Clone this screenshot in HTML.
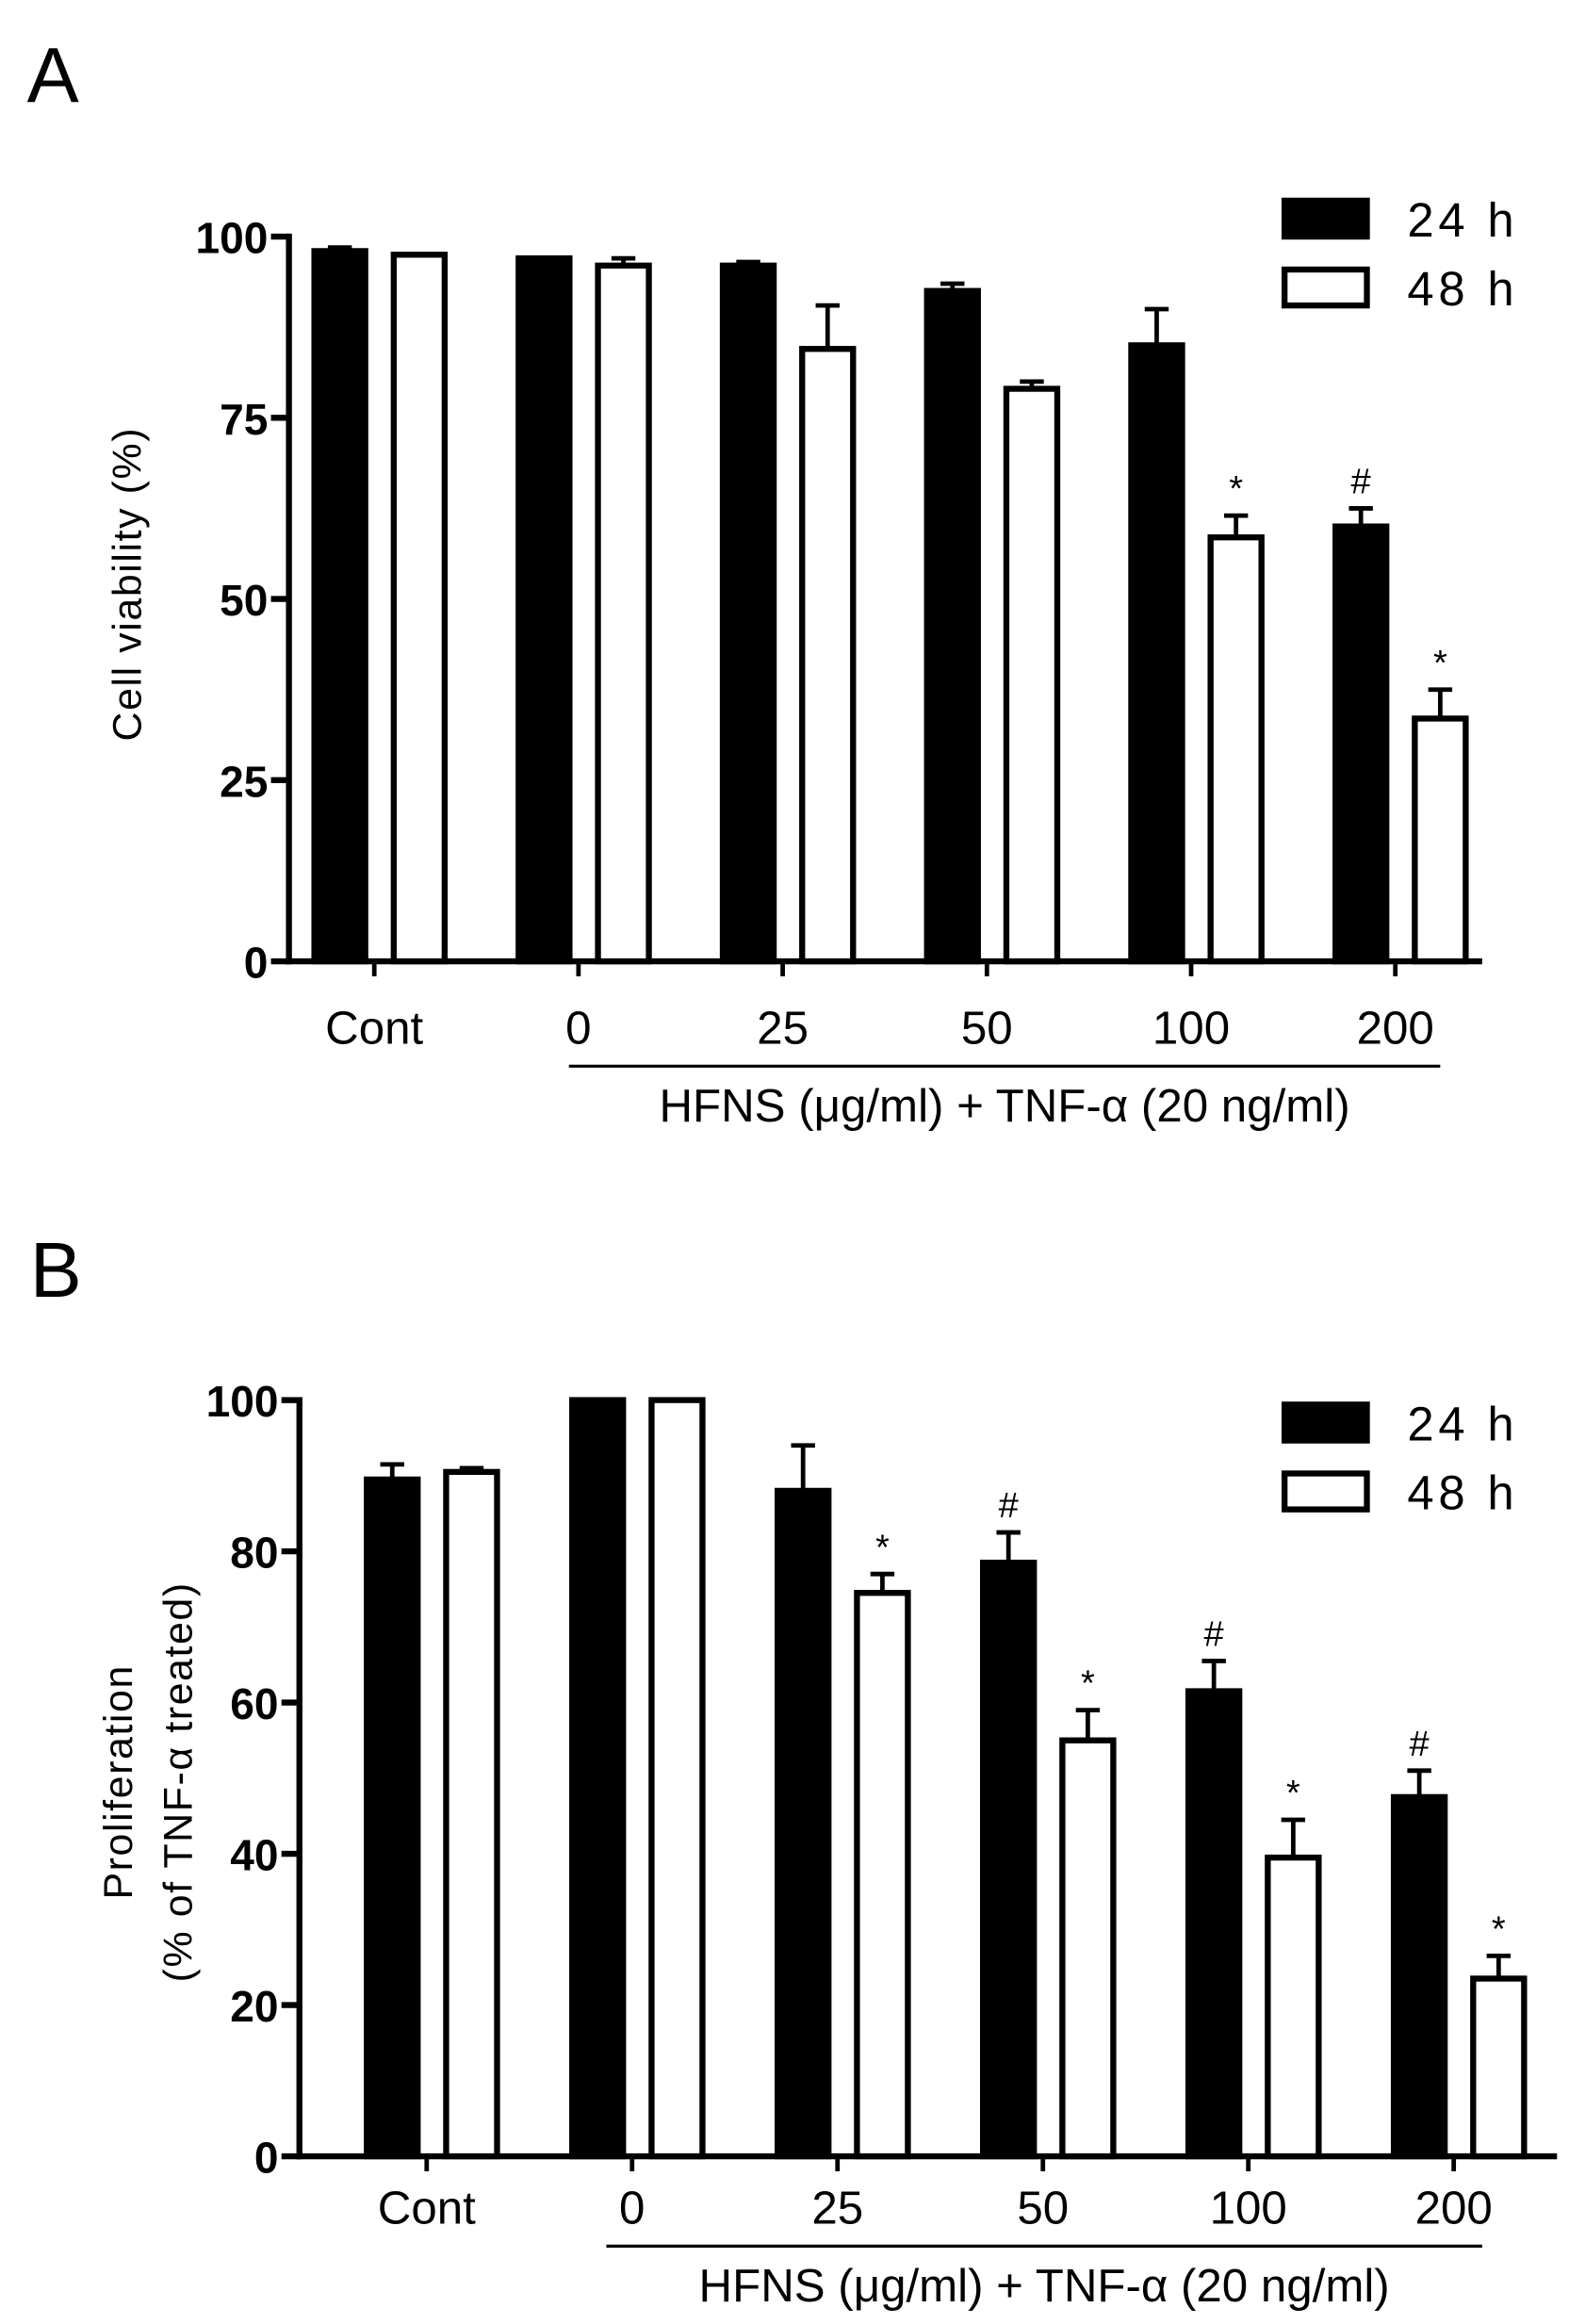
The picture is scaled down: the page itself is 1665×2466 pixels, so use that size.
<!DOCTYPE html>
<html><head><meta charset="utf-8"><style>
html,body{margin:0;padding:0;background:#fff;}
svg{display:block;}
text{font-family:"Liberation Sans",sans-serif;fill:#000;}
.tick{font-weight:bold;font-size:29px;}
.cat{font-family:"Liberation Sans Narrow","Liberation Sans",sans-serif;font-size:31px;}
.ttl{font-size:27px;}
.leg{font-family:"Liberation Sans Narrow","Liberation Sans",sans-serif;font-size:32px;}
</style></head><body>
<svg id="fig" width="1665" height="2466" viewBox="0 0 1048 1552" preserveAspectRatio="none" xmlns="http://www.w3.org/2000/svg">
<text x="18" y="68" style="font-size:52px">A</text>
<text x="20" y="866" style="font-size:52px">B</text>
<g id="pa"></g>
<g id="pb"></g>
</svg>
<script>
const categories=["Cont","0","25","50","100","200"];
const seriesNames=["24 h","48 h"];
const aVals24=[98,97,96,92.5,85,60];
const aErr24=[0.5,0,0.5,1,5,2.5];
const aVals48=[97.5,96,84.5,79,58.5,33.5];
const aErr48=[0,1,6,1,3,4];
const aMarks24=["","","","","","#"];
const aMarks48=["","","","","*","*"];
const aTicks=[0,25,50,75,100];
const bVals24=[89.5,100,88,78.5,61.5,47.5];
const bErr24=[2,0,6,4,4,3.5];
const bVals48=[90.5,100,74.5,55,39.5,23.5];
const bErr48=[0.5,0,2.5,4,5,3];
const bMarks24=["","","","#","#","#"];
const bMarks48=["","","*","*","*","*"];
const bTicks=[0,20,40,60,80,100];
const NS="http://www.w3.org/2000/svg";
function mk(p,tag,at,txt){const e=document.createElementNS(NS,tag);for(const k in at)e.setAttribute(k,at[k]);if(txt!=null)e.textContent=txt;p.appendChild(e);return e;}
function draw(cfg){
 const g=document.getElementById(cfg.id);
 const y=v=>cfg.y0-(v/cfg.max)*(cfg.y0-cfg.y100);
 const x=i=>cfg.x0+i*cfg.step;
 let ax=mk(g,'line',{x1:cfg.ax,y1:cfg.y100-2,x2:cfg.ax,y2:cfg.y0+2,stroke:'#000','stroke-width':4});
 
 ax=mk(g,'line',{x1:cfg.ax-2,y1:cfg.y0,x2:cfg.axEnd,y2:cfg.y0,stroke:'#000','stroke-width':4});
 
 cfg.ticks.forEach(t=>{
  mk(g,'line',{x1:cfg.ax-12,y1:y(t),x2:cfg.ax,y2:y(t),stroke:'#000','stroke-width':4});
  const tl=mk(g,'text',{x:cfg.ax-14,y:y(t)+11,'text-anchor':'end',class:'tick'},String(t));
  
 });
 categories.forEach((c,i)=>{
  mk(g,'line',{x1:x(i),y1:cfg.y0,x2:x(i),y2:cfg.y0+10,stroke:'#000','stroke-width':3});
  const cl=mk(g,'text',{x:x(i),y:cfg.y0+cfg.catOff,'text-anchor':'middle',class:'cat'},c);
  
  const series=[[cfg.v24,cfg.e24,cfg.m24,-40,'#000'],[cfg.v48,cfg.e48,cfg.m48,13,'#fff']];
  series.forEach((s,k)=>{
   const v=s[0][i],e=s[1][i],bx=x(i)+s[3],w=34,cx=bx+w/2;
   if(e>0){mk(g,'line',{x1:cx,y1:y(v),x2:cx,y2:y(v+e),stroke:'#000','stroke-width':3});
    mk(g,'line',{x1:cx-8,y1:y(v+e),x2:cx+8,y2:y(v+e),stroke:'#000','stroke-width':3});}
   const r=mk(g,'rect',{x:bx,y:y(v),width:w,height:cfg.y0-y(v),fill:s[4],stroke:'#000','stroke-width':4});
   
   
   if(s[2][i]){const mt=mk(g,'text',{x:cx,y:y(v+e)-10,'text-anchor':'middle',style:'font-size:24px'},s[2][i]);
    }
  });
 });
 mk(g,'line',{x1:cfg.ulx1,y1:cfg.y0+cfg.ulOff,x2:cfg.ulx2,y2:cfg.y0+cfg.ulOff,stroke:'#000','stroke-width':2});
 const xt=mk(g,'text',{x:(cfg.ulx1+cfg.ulx2)/2,y:cfg.y0+cfg.ulOff+37,'text-anchor':'middle',class:'cat'},'HFNS (μg/ml) + TNF-α  (20  ng/ml)');
 
 cfg.ytitle.forEach((t,j)=>{
  const tx=cfg.ytx+j*40;
  const yt=mk(g,'text',{x:tx,y:cfg.yty,'text-anchor':'middle',class:'ttl',transform:`rotate(-90 ${tx} ${cfg.yty})`,'letter-spacing':'1'},t);
  
 });
 seriesNames.forEach((n,k)=>{
  const ly=cfg.legY+k*46;
  const lr=mk(g,'rect',{x:858,y:ly,width:55,height:24,fill:k?'#fff':'#000',stroke:'#000','stroke-width':4});
  
  const lt=mk(g,'text',{x:940,y:ly+24,class:'leg','letter-spacing':'3'},n);
  
 });
}
draw({id:'pa',ax:193,axEnd:990,y0:642,y100:158,max:100,x0:250,step:136.4,ticks:aTicks,v24:aVals24,e24:aErr24,v48:aVals48,e48:aErr48,m24:aMarks24,m48:aMarks48,ulx1:380,ulx2:962,ulOff:70,catOff:55,ytitle:["Cell viability (%)"],ytx:94,yty:390,legY:134});
draw({id:'pb',ax:200,axEnd:1040,y0:1440,y100:935,max:100,x0:285,step:137.2,ticks:bTicks,v24:bVals24,e24:bErr24,v48:bVals48,e48:bErr48,m24:bMarks24,m48:bMarks48,ulx1:405,ulx2:990,ulOff:60,catOff:45,ytitle:["Proliferation","(% of  TNF-α  treated)"],ytx:88,yty:1190,legY:938});
</script>
</body></html>
